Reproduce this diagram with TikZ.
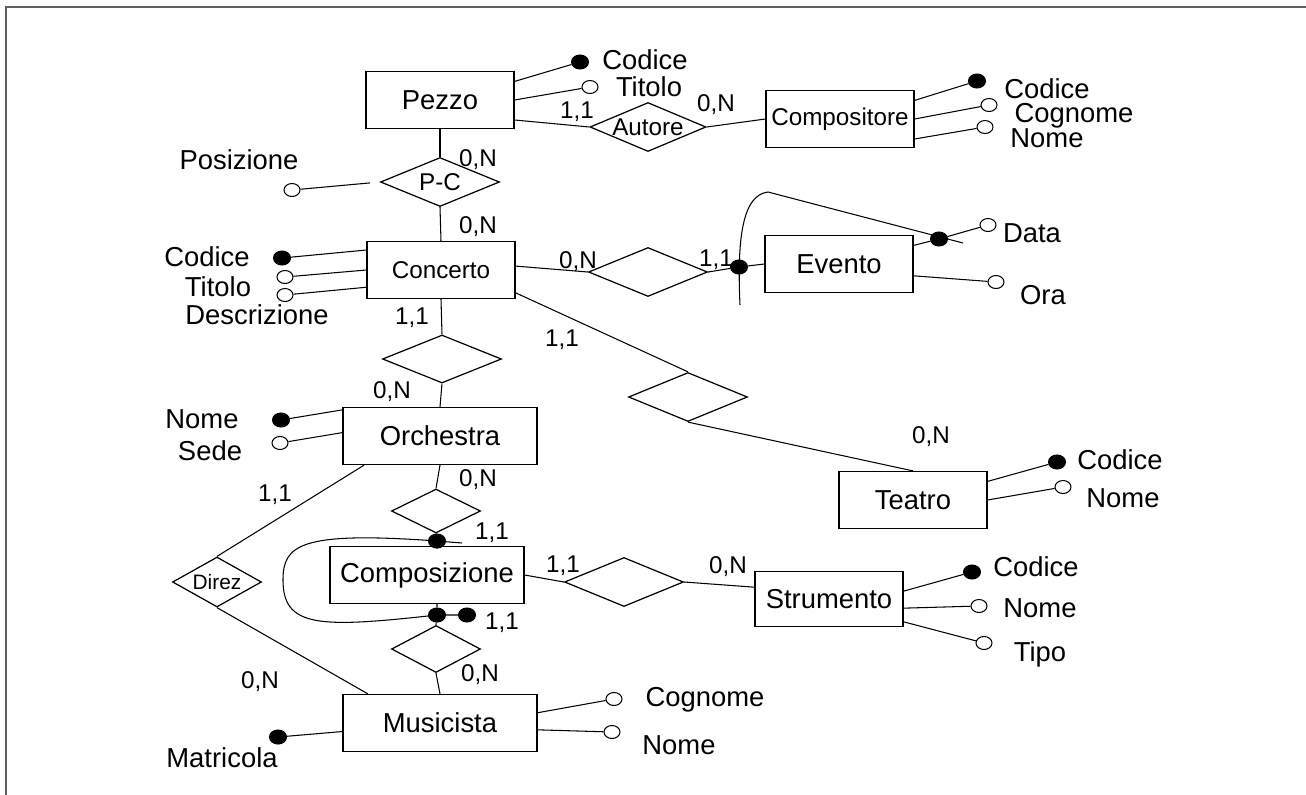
\documentclass[tikz,border=0pt]{standalone}
\usepackage{fontspec}
\setmainfont{Liberation Sans}
\usetikzlibrary{shapes.geometric}
\definecolor{framegray}{RGB}{95,95,95}
\newcommand{\fbig}{\fontsize{15.6pt}{18pt}\selectfont}
\newcommand{\fmid}{\fontsize{13.8pt}{16pt}\selectfont}
\newcommand{\fsmall}{\fontsize{11.9pt}{14pt}\selectfont}
\newcommand{\rl}[1]{\makebox[0pt]{#1}}

\begin{document}
\begin{tikzpicture}[x=0.02cm,y=-0.02cm,line width=0.6pt,
  ent/.style={draw,rectangle,line width=0.7pt,inner sep=2pt,minimum width=2.96cm,minimum height=1.14cm,font=\fbig},
  wideent/.style={minimum width=3.88cm},
  rel/.style={draw,diamond,line width=0.7pt,inner sep=0pt,minimum width=2.38cm,minimum height=0.98cm,font=\fmid},
  smallrel/.style={minimum width=1.78cm,minimum height=0.94cm},
  idatt/.style={ellipse,draw,fill,inner sep=0pt,minimum width=0.34cm,minimum height=0.28cm},
  optatt/.style={ellipse,draw,fill=white,inner sep=0pt,minimum width=0.32cm,minimum height=0.26cm},
  att/.style={font=\fbig,inner sep=0pt},
  card/.style={font=\fmid,inner sep=0pt}]
    \useasboundingbox (0,0) rectangle (1306,795);
    \draw[framegray,line width=1.2pt] (6,795) -- (6,7) -- (1306,7);

    % entita'
    \node[ent] (pezzo) at (440,100) {Pezzo};
    \node[ent,font=\fmid] (compositore) at (840,119) {Compositore};
    \node[ent,font=\fmid] (concerto) at (441,270) {Concerto};
    \node[ent] (evento) at (839,264) {Evento};
    \node[ent,wideent] (orchestra) at (440,436) {Orchestra};
    \node[ent] (teatro) at (913,500) {Teatro};
    \node[ent,wideent] (composizione) at (427,575) {Composizione};
    \node[ent,minimum height=1.1cm] (strumento) at (829,599) {Strumento};
    \node[ent,wideent] (musicista) at (440,723) {Musicista};

    % relazioni
    \node[rel,minimum width=2.32cm] (autore) at (648,127) {\rl{Autore}};
    \node[rel] (pc) at (440,182) {\rl{P-C}};
    \node[rel] (ce) at (648,272) {};
    \node[rel,minimum height=0.96cm] (co) at (442,359) {};
    \node[rel] (ct) at (688,397) {};
    \node[rel] (cs) at (624,582) {};
    \node[rel,smallrel,minimum height=0.88cm] (oc) at (436,511) {};
    \node[rel,smallrel] (cm) at (436,649) {};
    \node[rel,smallrel,font=\fsmall,minimum height=1cm] (direz) at (217,582) {\rl{Direz}};

    % attributi
    \node[idatt] (pzCod) at (580,62) {};
    \node[optatt] (pzTit) at (590,87) {};
    \node[att] (pzCodT) at (645,60) {Codice};
    \node[att] (pzTitT) at (649,87) {Titolo};
    \node[idatt] (cpCod) at (977,81) {};
    \node[optatt] (cpCog) at (989,105) {};
    \node[optatt] (cpNom) at (985,127) {};
    \node[att] (cpCodT) at (1047,89) {Codice};
    \node[att] (cpCogT) at (1074,116) {Cognome};
    \node[att] (cpNomT) at (1047,138) {Nome};
    \node[optatt] (pos) at (292,190) {};
    \node[att] (posT) at (239,160) {Posizione};
    \node[idatt] (ccCod) at (282,258) {};
    \node[optatt] (ccTit) at (285,277) {};
    \node[optatt] (ccDes) at (285,295) {};
    \node[att] (ccCodT) at (207,257) {Codice};
    \node[att] (ccTitT) at (218,287) {Titolo};
    \node[att] (ccDesT) at (257,315) {Descrizione};
    \node[idatt] (evKey) at (739,267) {};
    \node[idatt] (dataKey) at (939,239) {};
    \node[optatt] (data) at (988,225) {};
    \node[optatt] (ora) at (996,282) {};
    \node[att] (dataT) at (1032,233) {Data};
    \node[att] (oraT) at (1043,295) {Ora};
    \node[idatt] (orNom) at (281,420) {};
    \node[optatt] (orSede) at (280,443) {};
    \node[att] (orNomT) at (202,419) {Nome};
    \node[att] (orSedeT) at (210,451) {Sede};
    \node[idatt] (thCod) at (1057,462) {};
    \node[optatt] (thNom) at (1063,487) {};
    \node[att] (thCodT) at (1120,460) {Codice};
    \node[att] (thNomT) at (1123,498) {Nome};
    \node[idatt] (stCod) at (972,572) {};
    \node[optatt] (stNom) at (979,606) {};
    \node[optatt] (stTip) at (984,643) {};
    \node[att] (stCodT) at (1036,567) {Codice};
    \node[att] (stNomT) at (1040,608) {Nome};
    \node[att] (stTipT) at (1040,654) {Tipo};
    \node[optatt] (muCog) at (614,699) {};
    \node[optatt] (muNom) at (612,732) {};
    \node[idatt] (muMat) at (278,737) {};
    \node[att] (muCogT) at (705,700) {Cognome};
    \node[att] (muNomT) at (679,745) {Nome};
    \node[att] (muMatT) at (222,758) {Matricola};
    \node[idatt] (compTop) at (437,541) {};
    \node[idatt] (compBot) at (437,615) {};
    \node[idatt] (compBot2) at (467,615) {};

    % collegamenti
    \draw (pezzo.14) -- (pzCod);
    \draw (pezzo.east) -- (pzTit);
    \draw (pezzo.-15) -- (autore.west);
    \draw (autore.east) -- (compositore.west);
    \draw (compositore.14) -- (cpCod);
    \draw (compositore.east) -- (cpCog);
    \draw (compositore.-15) -- (cpNom);
    \draw (pezzo.south) -- (pc.north);
    \draw (pc.south) -- (concerto.north);
    \draw[shorten >=0.2cm] (pos) -- (pc.west);
    \draw (concerto.165) -- (ccCod);
    \draw (concerto.west) -- (ccTit);
    \draw (concerto.-167) -- (ccDes);
    \draw (concerto.3) -- (ce.west);
    \draw (ce.east) -- (evKey) -- (evento.west);
    \draw (evento.14) -- (dataKey) -- (data);
    \draw (evento.-9) -- (ora);
    \coordinate (evFoot) at (740,305);
    \coordinate (evTip) at (963,243);
    \draw (evFoot) .. controls (737,240) and (742,195) .. (768,192) -- (evTip);
    \draw (concerto.south) -- (co.north);
    \draw (co.south) -- (orchestra.north);
    \draw (concerto.-17) -- (ct.north);
    \draw (ct.south) -- (teatro.north);
    \draw (teatro.14) -- (thCod);
    \draw (teatro.east) -- (thNom);
    \draw (orchestra.165) -- (orNom);
    \draw (orchestra.178) -- (orSede);
    \draw (orchestra.south) -- (oc.north);
    \draw (oc.south) -- (compTop) -- (compTop |- composizione.north);
    \coordinate (loopEnd) at (462,543);
    \draw (loopEnd) -- (compTop.center) .. controls (300,531) and (283,545) .. (283,580)
      .. controls (283,628) and (320,628) .. (compBot.center) -- (compBot2.center);
    \draw (compBot |- composizione.south) -- (compBot) -- (cm.north);
    \draw (cm.south) -- (musicista.north);
    \draw (composizione.east) -- (cs.west);
    \draw (cs.east) -- (strumento.171);
    \draw (strumento.6) -- (stCod);
    \draw (strumento.-7) -- (stNom);
    \draw (strumento.-17) -- (stTip);
    \draw (direz.north) -- (orchestra.-159);
    \draw (direz.south) -- (musicista.158);
    \draw (musicista.6) -- (muCog);
    \draw (musicista.-4) -- (muNom);
    \draw (musicista.-175) -- (muMat);

    % cardinalita'
    \foreach \x/\y/\c [count=\i] in {577/112/{1,1}, 716/105/{0,N}, 478/160/{0,N}, 478/227/{0,N},
      578/262/{0,N}, 716/260/{1,1}, 412/318/{1,1}, 562/340/{1,1}, 392/392/{0,N}, 931/437/{0,N},
      275/495/{1,1}, 478/480/{0,N}, 492/533/{1,1}, 563/566/{1,1}, 728/567/{0,N}, 502/623/{1,1},
      480/675/{0,N}, 260/682/{0,N}}
      \node[card] (card\i) at (\x,\y) {\c};
\end{tikzpicture}
\end{document}
